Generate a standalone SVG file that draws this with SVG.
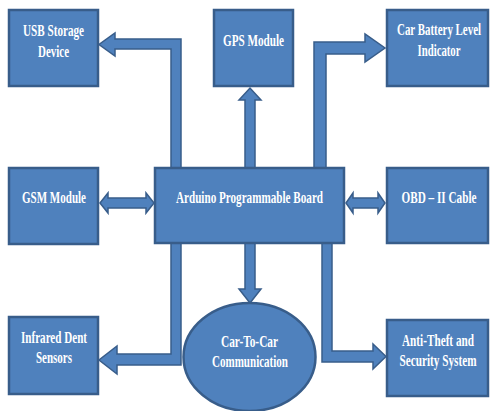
<svg xmlns="http://www.w3.org/2000/svg" width="490" height="411" viewBox="0 0 490 411">
<style>
.box{fill:#4F81BD;stroke:#385D8A;stroke-width:2.5}
.arr{fill:#4F81BD;stroke:#385D8A;stroke-width:1.5;stroke-linejoin:miter}
.t{font-family:"Liberation Serif","Times New Roman",serif;font-weight:bold;font-size:16px;fill:#FFFFFF;text-anchor:middle}
</style>
<rect width="490" height="411" fill="#FFFFFF"/>
<g id="connectors">
<polygon class="arr" points="181,168 181,39 115,39 115,33 99,44.5 115,56 115,49 171,49 171,168"/>
<polygon class="arr" points="245,168 245,100 239,100 250,88 261,100 255,100 255,168"/>
<polygon class="arr" points="314,168 314,42 365,42 365,34 385,48 365,62 365,54 326,54 326,168"/>
<polygon class="arr" points="100,203 108,193 108,198 146,198 146,193 154,203 146,213 146,208 108,208 108,213"/>
<polygon class="arr" points="346,203 353,193 353,198 378,198 378,193 385,203 378,213 378,208 353,208 353,213"/>
<polygon class="arr" points="245,243 245,289 239,289 250,303 261,289 255,289 255,243"/>
<polygon class="arr" points="171,243 171,354 117,354 117,346 99,360 117,374 117,365 181,365 181,243"/>
<polygon class="arr" points="322,243 322,362 373,362 373,369 386,356.5 373,344 373,351 332,351 332,243"/>
</g>
<g id="usb">
<rect class="box" x="9" y="10" width="89" height="76"/>
<text class="t" transform="translate(53.5 36) scale(0.72 1)" textLength="84.7" lengthAdjust="spacingAndGlyphs">USB Storage</text>
<text class="t" transform="translate(53.5 57) scale(0.72 1)" textLength="43" lengthAdjust="spacingAndGlyphs">Device</text>
</g>
<g id="gps">
<rect class="box" x="214" y="10" width="79" height="76"/>
<text class="t" transform="translate(253.5 46) scale(0.72 1)" textLength="84.7" lengthAdjust="spacingAndGlyphs">GPS Module</text>
</g>
<g id="battery">
<rect class="box" x="387" y="10" width="101" height="76"/>
<text class="t" transform="translate(439 35) scale(0.72 1)" textLength="116.7" lengthAdjust="spacingAndGlyphs">Car Battery Level</text>
<text class="t" transform="translate(439 56) scale(0.72 1)" textLength="59.7" lengthAdjust="spacingAndGlyphs">Indicator</text>
</g>
<g id="gsm">
<rect class="box" x="9" y="168" width="89" height="76"/>
<text class="t" transform="translate(54 203) scale(0.72 1)" textLength="88.9" lengthAdjust="spacingAndGlyphs">GSM Module</text>
</g>
<g id="arduino">
<rect class="box" x="155" y="168" width="189" height="75"/>
<text class="t" transform="translate(249.5 203) scale(0.72 1)" textLength="204.2" lengthAdjust="spacingAndGlyphs">Arduino Programmable Board</text>
</g>
<g id="obd">
<rect class="box" x="387" y="168" width="101" height="75"/>
<text class="t" transform="translate(439 203) scale(0.72 1)" textLength="104.2" lengthAdjust="spacingAndGlyphs">OBD – II Cable</text>
</g>
<g id="infrared">
<rect class="box" x="9" y="317" width="89" height="77"/>
<text class="t" transform="translate(54 343) scale(0.72 1)" textLength="91.7" lengthAdjust="spacingAndGlyphs">Infrared Dent</text>
<text class="t" transform="translate(54 363) scale(0.72 1)" textLength="50" lengthAdjust="spacingAndGlyphs">Sensors</text>
</g>
<g id="antitheft">
<rect class="box" x="387" y="320" width="101" height="76"/>
<text class="t" transform="translate(438 346) scale(0.72 1)" textLength="100" lengthAdjust="spacingAndGlyphs">Anti-Theft and</text>
<text class="t" transform="translate(438 366) scale(0.72 1)" textLength="106.9" lengthAdjust="spacingAndGlyphs">Security System</text>
</g>
<g id="car2car">
<ellipse class="box" cx="249.5" cy="357" rx="66" ry="54"/>
<text class="t" transform="translate(249.5 347) scale(0.72 1)" textLength="79.2" lengthAdjust="spacingAndGlyphs">Car-To-Car</text>
<text class="t" transform="translate(250 367) scale(0.72 1)" textLength="105.6" lengthAdjust="spacingAndGlyphs">Communication</text>
</g>
</svg>
